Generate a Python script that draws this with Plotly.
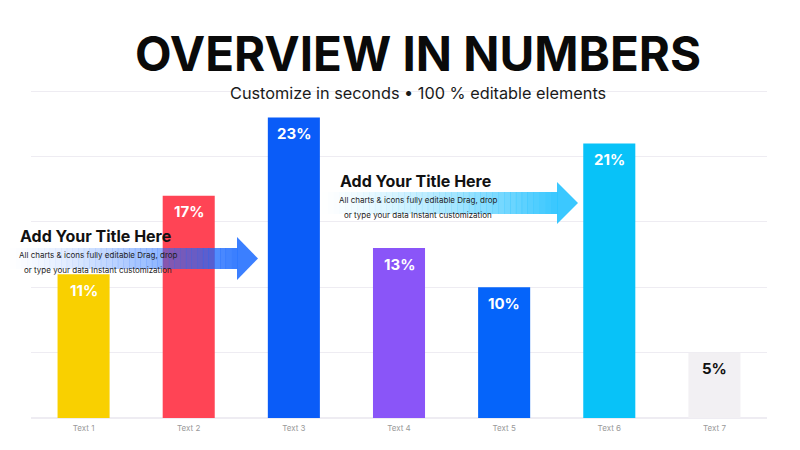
import plotly.graph_objects as go

categories = ["Text 1", "Text 2", "Text 3", "Text 4", "Text 5", "Text 6", "Text 7"]
values = [11, 17, 23, 13, 10, 21, 5]
bar_colors = ["#F9D000", "#FF4455", "#0A5CF8", "#8A55F8", "#0564FA", "#08C2F8", "#F2F0F3"]
label_colors = ["#FFFFFF"] * 6 + ["#111111"]
grid_values = [0, 5, 10, 15, 20, 25]

title_text = "OVERVIEW IN NUMBERS"
subtitle_text = "Customize in seconds \u2022 100 % editable elements"
note_title = "Add Your Title Here"
note_lines = ["All charts & icons fully editable Drag, drop", "or type your data Instant customization"]

W, H = 800, 450
OFF = 8  # page body margin
L, T = 31 - OFF, 90 - OFF
PW, PH = 736, 328
R = W - L - PW
B = H - T - PH


def px(x):
    return (x - OFF - L) / PW


def py(y):
    return (H - B - (y - OFF)) / PH


fig = go.Figure()
fig.add_trace(go.Bar(
    x=categories, y=values,
    marker=dict(color=bar_colors, line=dict(width=0)),
    width=0.495,
    hoverinfo="skip",
))

shapes = []


def arrow(x_start, x_base, x_tip, by0, by1, hy0, hy1, rgb, n=40, amax=0.85):
    for i in range(n):
        xa = x_start + (x_base - x_start) * i / n
        xb = x_start + (x_base - x_start) * (i + 1) / n + 0.4
        a = amax * ((i + 1) / n) ** 1.4
        shapes.append(dict(type="rect", xref="paper", yref="paper",
                           x0=px(xa), x1=px(xb), y0=py(by1), y1=py(by0),
                           fillcolor=f"rgba({rgb},{a:.3f})", line=dict(width=0), layer="above"))
    ym = (hy0 + hy1) / 2
    path = f"M {px(x_base)} {py(hy0)} L {px(x_tip)} {py(ym)} L {px(x_base)} {py(hy1)} Z"
    shapes.append(dict(type="path", xref="paper", yref="paper", path=path,
                       fillcolor=f"rgba({rgb},{amax})", line=dict(width=0), layer="above"))


arrow(10, 237, 258, 248, 269, 237, 280, "25,105,255")
arrow(322, 557, 578, 192, 214, 182, 224, "25,190,255")

annotations = [
    dict(text=f"<b>{title_text}</b>", x=px(418), y=py(53), xref="paper", yref="paper",
         showarrow=False, font=dict(size=47.5, color="#0a0a0a", family="Inter"), xanchor="center", yanchor="middle"),
    dict(text=subtitle_text, x=px(418), y=py(93), xref="paper", yref="paper",
         showarrow=False, font=dict(size=16.3, color="#1a1a1a", family="Inter"), xanchor="center", yanchor="middle"),
]

for tx, ty, cx, ly in [(18, 236, 98, (255, 270)), (338, 181, 418, (200, 215))]:
    annotations.append(dict(text=f"<b>{note_title}</b>", x=px(tx), y=py(ty), xref="paper", yref="paper",
                            showarrow=False, font=dict(size=16, color="#111111", family="Inter"),
                            xanchor="left", yanchor="middle"))
    for line, yy in zip(note_lines, ly):
        annotations.append(dict(text=line, x=px(cx), y=py(yy), xref="paper", yref="paper",
                                showarrow=False, font=dict(size=8, color="#222222", family="Inter"),
                                xanchor="center", yanchor="middle"))

for c, v, col in zip(categories, values, label_colors):
    annotations.append(dict(text=f"<b>{v}%</b>", x=c, y=v, xref="x", yref="y", yshift=-16,
                            showarrow=False, font=dict(size=15, color=col, family="Inter"),
                            xanchor="center", yanchor="middle"))

fig.update_layout(
    width=W, height=H,
    margin=dict(l=L, r=R, t=T, b=B, pad=0),
    paper_bgcolor="white", plot_bgcolor="white",
    showlegend=False,
    shapes=shapes,
    annotations=annotations,
    xaxis=dict(showgrid=False, showline=False, zeroline=False, ticks="", ticklabelstandoff=4,
               tickfont=dict(size=8, color="#9a9a9a", family="Inter"), fixedrange=True),
    yaxis=dict(range=[0, 25.1], tickvals=grid_values, showgrid=True, gridcolor="#EEECF2", gridwidth=1,
               zeroline=True, zerolinecolor="#EEECF2", showticklabels=False, showline=False, fixedrange=True),
)

fig.write_html("out.html")
